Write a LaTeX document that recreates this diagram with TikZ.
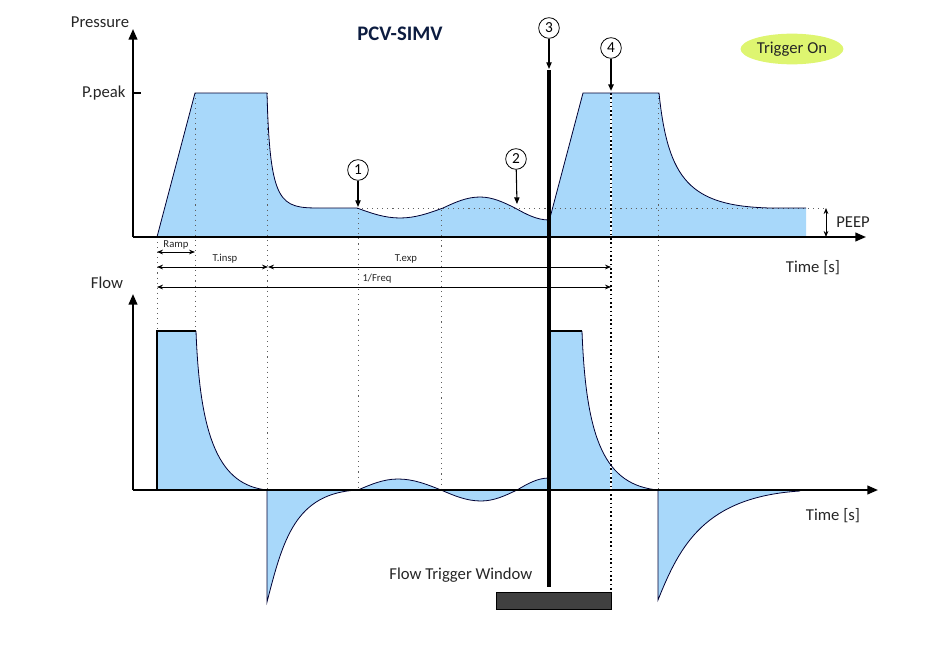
\documentclass[tikz,border=0pt]{standalone}
\usepackage{fontspec}
\setmainfont{Carlito}
\usetikzlibrary{arrows.meta,shapes.geometric}
\definecolor{wave}{RGB}{168,216,250}
\definecolor{trig}{RGB}{222,245,112}
\definecolor{navy}{RGB}{12,28,64}
\definecolor{gridgrey}{RGB}{95,95,95}
\definecolor{winbox}{RGB}{64,64,64}
\begin{document}
\begin{tikzpicture}[x=0.75pt,y=-0.75pt,
  axis/.style={line width=1.5pt,-{Triangle[length=8pt,width=6.5pt]}},
  curve/.style={line width=0.6pt,draw=black!80!blue},
  edge/.style={line width=1.4pt},
  guide/.style={gridgrey,line width=0.6pt,dash pattern=on 0.8pt off 3pt},
  boldguide/.style={line width=1.3pt,dash pattern=on 1.2pt off 2pt},
  dim/.style={line width=0.6pt,{Stealth[length=4.5pt,width=3.5pt]}-{Stealth[length=4.5pt,width=3.5pt]}},
  ptr/.style={line width=0.8pt,-{Triangle[length=5pt,width=4pt]}},
  lbl/.style={font=\fontsize{12.5}{14}\selectfont,text=black!85,inner sep=1pt},
  small/.style={font=\fontsize{8}{9}\selectfont,text=black!85,inner sep=1pt},
  numcirc/.style={circle,draw,line width=0.6pt,minimum size=15.5pt,inner sep=0pt,font=\fontsize{11.5}{12}\selectfont}
]
\useasboundingbox (0,0) rectangle (950,646);

% ---------- fills ----------
\fill[wave] (157,237) -- (195,93) -- (267,93) .. controls (270,205) and (280,208) .. (320,208)
  -- (357,208) sin (400,218) cos (443,208) sin (480,197) cos (515,208) sin (549,220)
  -- (551,214) -- (583,93) -- (659,93) .. controls (668,180) and (690,206) .. (770,208)
  -- (806,208) -- (806,237) -- cycle;
\fill[wave] (157,490) -- (157,331) -- (196,331) .. controls (200,440) and (220,485) .. (267,490) -- cycle;
\fill[wave] (267,490) -- (267,602) .. controls (283,540) and (295,493) .. (358,490) -- cycle;
\fill[wave] (358,490) sin (398,479) cos (441,490) sin (481,501) cos (517,490) sin (549,478) -- (549,490) -- cycle;
\fill[wave] (549,490) -- (549,331) -- (582,331) .. controls (586,440) and (605,485) .. (658,490) -- cycle;
\fill[wave] (658,490) -- (658,600) .. controls (680,545) and (705,497) .. (800,491) -- (800,490) -- cycle;

% ---------- guides ----------
\draw[guide] (157,237) -- (157,331);
\draw[guide] (195,93) -- (195,331);
\draw[guide] (267,93) -- (267,490);
\draw[guide] (358,208) -- (358,490);
\draw[guide] (441,210) -- (441,490);
\draw[guide] (658,93) -- (658,490);
\draw[guide] (357,208) -- (826,208);
\draw[white,line width=1.5pt] (611,93) -- (611,592);
\draw[boldguide] (611,93) -- (611,592);

% ---------- curves ----------
\draw[curve] (157,237) -- (195,93) -- (267,93) .. controls (270,205) and (280,208) .. (320,208)
  -- (357,208) sin (400,218) cos (443,208) sin (480,197) cos (515,208) sin (549,220)
  -- (551,214) -- (583,93) -- (659,93) .. controls (668,180) and (690,206) .. (770,208)
  -- (806,208);
\draw[edge] (157,490) -- (157,331) -- (196,331);
\draw[curve] (196,331) .. controls (200,440) and (220,485) .. (267,490);
\draw[curve] (267,490) -- (267,602) .. controls (283,540) and (295,493) .. (358,490)
  sin (398,479) cos (441,490) sin (481,501) cos (517,490) sin (549,478);
\draw[edge] (549,331) -- (582,331);
\draw[curve] (582,331) .. controls (586,440) and (605,485) .. (658,490) -- (658,600)
  .. controls (680,545) and (705,497) .. (800,491);

% ---------- axes ----------
\coordinate (po) at (133,237);
\coordinate (ptop) at (133,29);
\coordinate (pend) at (866,237);
\coordinate (fo) at (133,490);
\coordinate (ftop) at (133,294);
\coordinate (fend) at (878,490);
\draw[axis] (po) -- (ptop);
\draw[axis] (po) -- (pend);
\draw[axis] (fo) -- (ftop);
\draw[axis] (fo) -- (fend);
\coordinate (tk1) at (133,93);
\coordinate (tk2) at (141,93);
\draw[line width=0.8pt] (tk1) -- (tk2);

\node[lbl] (lp) at (100,22) {Pressure};
\node[lbl,anchor=east] (lpk) at (127,93) {P.peak};
\node[lbl] (lt1) at (813,268) {Time [s]};
\node[lbl] (lf) at (107,283) {Flow};
\node[lbl] (lt2) at (833,516) {Time [s]};
\node[lbl] (lpeep) at (853,222) {PEEP};
\coordinate (pe1) at (826,208);
\coordinate (pe2) at (826,237);
\draw[dim] (pe1) -- (pe2);

\node[font=\fontsize{15.5}{17}\bfseries,text=navy] (title) at (400,34) {PCV-SIMV};
\node[ellipse,fill=trig,minimum width=76pt,minimum height=23pt,lbl] (trg) at (792,49) {Trigger On};

% ---------- dimension arrows ----------
\coordinate (r1) at (157,252); \coordinate (r2) at (195,252);
\coordinate (i1) at (157,267); \coordinate (i2) at (268,267); \coordinate (e2) at (611,267);
\coordinate (f1) at (157,287); \coordinate (f2) at (611,287);
\draw[dim] (r1) -- (r2);
\draw[dim] (i1) -- (i2);
\draw[dim] (i2) -- (e2);
\draw[dim] (f1) -- (f2);
\node[small] (lramp) at (176,245) {Ramp};
\node[small] (lins) at (225,259) {T.insp};
\node[small] (lexp) at (406,259) {T.exp};
\node[small] (lfreq) at (377,279) {1/Freq};

% ---------- trigger ----------
\coordinate (tl1) at (549,70);
\coordinate (tl2) at (549,587);
\draw[line width=2.3pt] (tl1) -- (tl2);
\node[numcirc] (m1) at (358,170) {1};
\node[numcirc] (m2) at (516,159) {2};
\node[numcirc] (m3) at (549,28) {3};
\node[numcirc] (m4) at (611,48) {4};
\coordinate (a1) at (358,207);
\coordinate (a2) at (517,204);
\coordinate (a3) at (549,69);
\coordinate (a4) at (611,91);
\draw[ptr] (m1) -- (a1);
\draw[ptr] (m2) -- (a2);
\draw[ptr] (m3) -- (a3);
\draw[ptr,line width=1.6pt] (m4) -- (a4);

\node[lbl,anchor=east] (lwin) at (534,575) {Flow Trigger Window};
\node[draw,fill=winbox,line width=0.6pt,minimum width=86pt,minimum height=12.5pt,inner sep=0pt,anchor=north west] (win) at (496,592) {};
\end{tikzpicture}
\end{document}
